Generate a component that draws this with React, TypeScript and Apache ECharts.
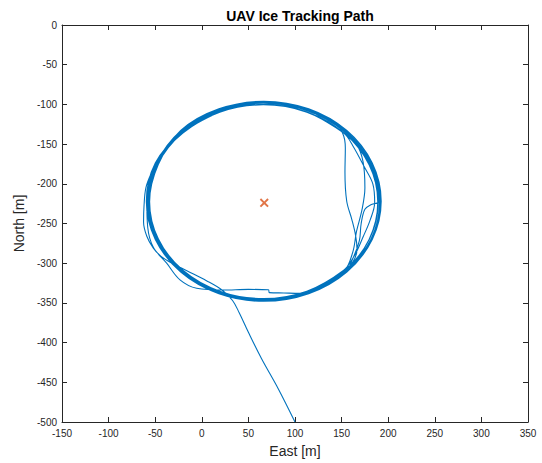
import React, { useEffect, useRef } from "react";
import * as echarts from "echarts";

// East / North limits and tick step [m]
const eastRange = [-150, 350];
const northRange = [-500, 0];
const tickStep = 50;

// Ice target (red cross)
const target = [67, -224];

// Entry leg into the orbit
const entryLeg = [
  [100, -500], [82, -458], [64, -420], [50, -387], [40, -362], [33, -347],
  [22, -334], [5, -322], [-15, -310], [-32, -300], [-44, -291], [-52, -281],
  [-59, -266], [-62.5, -248], [-62, -228], [-60, -205], [-54, -186], [-48.6, -174.5],
];

// Orbit laps (clockwise), with the inner cut-offs on the east side
const orbit1 = [
  [-21.7, -134.3], [18.5, -107.4], [66, -98], [113.5, -107.4], [140, -121], [151, -136],
  [154, -155], [153.6, -185], [155.5, -222], [161, -245], [165, -265], [166.5, -282],
  [153.7, -309.7], [113.5, -336.6], [66, -346], [18.5, -336.6], [-21.7, -309.7],
  [-48.6, -269.5], [-58, -222], [-48.6, -174.5],
];
const orbit2 = [
  [-20.3, -136.2], [19.3, -109.8], [66, -100.5], [112.7, -109.8], [152.3, -136.2],
  [162, -152], [174, -178], [183.5, -200], [185.5, -224], [180.5, -246], [173, -267], [164, -290],
  [152.3, -308.8], [112.7, -335.2], [66, -344.5], [19.3, -335.2], [-20.3, -308.8],
  [-46.7, -269.2], [-56, -222.5], [-46.7, -175.8],
];
const orbit3 = [
  [-22.6, -132.9], [18.3, -105.6], [66.5, -96], [114.7, -105.6], [155.6, -132.9],
  [182.9, -173.8], [192.5, -222], [182.9, -270.2], [155.6, -311.1], [114.7, -338.4],
  [66.5, -348], [18.3, -338.4], [-22.6, -311.1], [-49.9, -270.2], [-59.5, -222], [-49.9, -173.8],
];
const orbit4 = [
  [-21.5, -136], [18.4, -109.4], [65.5, -100], [112.6, -109.4], [152.5, -136],
  [166, -150], [173, -172], [175, -205], [172, -232], [166, -260], [162, -286],
  [152.5, -310], [112.6, -336.6], [65.5, -346], [18.4, -336.6], [-21.5, -310],
  [-48.1, -270.1], [-57.5, -223], [-48.1, -175.9],
];
const orbit5 = [
  [-22.4, -133.6], [18.2, -106.5], [66, -97], [113.8, -106.5], [154.4, -133.6],
  [181.5, -174.2], [191, -222], [181.5, -269.8], [154.4, -310.4], [125, -332],
  [105, -338], [88, -337.5], [72.5, -337], [71.5, -333.5], [50, -333], [22.7, -333.8],
  [-5.5, -331.6], [-23.4, -321], [-37.7, -300], [-52, -280], [-58, -255], [-59, -222],
  [-49.5, -174.2],
];
const orbit6 = [
  [-21.5, -134.5], [18.9, -107.5], [66.5, -98], [114.1, -107.5], [154.5, -134.5],
  [181.5, -174.9], [190.5, -222], [182, -226], [175, -232], [171, -250], [169, -272], [161, -297],
  [154.5, -310.5], [114.1, -337.5], [66.5, -347], [18.9, -337.5], [-21.5, -310.5],
  [-48.5, -270.1], [-58, -222.5], [-48.5, -174.9],
];
const orbit7 = [
  [-21.3, -134.7], [18.7, -107.9], [66, -98.5], [113.3, -107.9], [153.3, -134.7],
  [180.1, -174.7], [189.5, -222], [180.1, -269.3], [153.3, -309.3], [113.3, -336.1],
  [66, -345.5], [18.7, -336.1], [-21.3, -309.3], [-48, -269.3], [-57.5, -222], [-48, -174.7],
];
const orbit8 = [
  [-22.2, -134.3], [18.2, -107.2], [66, -97.7], [113.8, -107.2], [154.2, -134.3],
  [181.3, -174.7], [190.8, -222.5], [181.3, -270.3], [154.2, -310.7], [113.8, -337.8],
  [66, -347.3], [18.2, -337.8], [-22.2, -310.7], [-49.3, -270.3], [-58.8, -222.5], [-49.3, -174.7],
];
const orbit9 = [
  [-22, -134.5], [18.1, -107.6], [65.5, -98.2], [112.9, -107.6], [153, -134.5],
  [179.9, -174.6], [189.3, -222], [179.9, -269.4], [153, -309.5], [112.9, -336.4],
  [65.5, -345.8], [18.1, -336.4], [-22, -309.5], [-48.9, -269.4], [-58.3, -222], [-48.9, -174.6],
];
const orbit10 = [
  [-22.2, -132.8], [18.5, -105.6], [66.5, -96], [114.5, -105.6], [155.2, -132.8],
  [182.4, -173.5], [192, -221.5], [182.4, -269.5], [155.2, -310.2], [114.5, -337.4],
  [66.5, -347], [18.5, -337.4], [-22.2, -310.2], [-49.4, -269.5], [-59, -221.5], [-49.4, -173.5],
];
const orbit11 = [
  [-20.8, -136.2], [19, -109.5], [66, -100.2], [113, -109.5], [152.8, -136.2],
  [179.5, -176], [188.8, -223], [179.5, -270], [152.8, -309.8], [113, -336.5],
  [66, -345.8], [19, -336.5], [-20.8, -309.8], [-47.5, -270], [-56.8, -223], [-47.5, -176],
  [-20.8, -136.2], [19, -109.5],
];

const flightPath = [
  ...entryLeg, ...orbit1, ...orbit2, ...orbit3, ...orbit4, ...orbit5, ...orbit6,
  ...orbit7, ...orbit8, ...orbit9, ...orbit10, ...orbit11,
];

const FONT = "'Liberation Sans', Arial, Helvetica, sans-serif";
const AXIS = "#262626";

export default function App() {
  const ref = useRef<HTMLDivElement>(null);
  useEffect(() => {
    if (!ref.current) return;
    const chart = echarts.init(ref.current, undefined, { renderer: "svg" });
    const tickCommon = { show: true, inside: true, length: 5, lineStyle: { color: AXIS, width: 1 } };
    const lineCommon = { show: true, onZero: false, lineStyle: { color: AXIS, width: 1 } };
    chart.setOption({
      animation: false,
      backgroundColor: "#ffffff",
      title: {
        text: "UAV Ice Tracking Path",
        left: 295,
        textAlign: "center",
        top: 4,
        textStyle: { fontFamily: FONT, fontSize: 14, fontWeight: "bold", color: "#000000" },
      },
      grid: { left: 62, right: 14, top: 25, bottom: 41, containLabel: false },
      xAxis: [
        {
          type: "value",
          min: eastRange[0],
          max: eastRange[1],
          interval: tickStep,
          position: "bottom",
          name: "East [m]",
          nameLocation: "middle",
          nameGap: 22,
          nameTextStyle: { fontFamily: FONT, fontSize: 14, color: AXIS },
          axisLine: lineCommon,
          axisTick: tickCommon,
          axisLabel: { fontFamily: FONT, fontSize: 10, color: AXIS, margin: 6 },
          splitLine: { show: false },
        },
        {
          type: "value",
          min: eastRange[0],
          max: eastRange[1],
          interval: tickStep,
          position: "top",
          axisLine: lineCommon,
          axisTick: tickCommon,
          axisLabel: { show: false },
          splitLine: { show: false },
        },
      ],
      yAxis: [
        {
          type: "value",
          min: northRange[0],
          max: northRange[1],
          interval: tickStep,
          position: "left",
          name: "North [m]",
          nameLocation: "middle",
          nameGap: 24,
          nameTextStyle: { fontFamily: FONT, fontSize: 14, color: AXIS },
          axisLine: lineCommon,
          axisTick: tickCommon,
          axisLabel: { fontFamily: FONT, fontSize: 10, color: AXIS, margin: 5 },
          splitLine: { show: false },
        },
        {
          type: "value",
          min: northRange[0],
          max: northRange[1],
          interval: tickStep,
          position: "right",
          axisLine: lineCommon,
          axisTick: tickCommon,
          axisLabel: { show: false },
          splitLine: { show: false },
        },
      ],
      series: [
        {
          type: "line",
          name: "UAV path",
          data: flightPath,
          xAxisIndex: 0,
          yAxisIndex: 0,
          showSymbol: false,
          smooth: 0.35,
          lineStyle: { color: "#0072BD", width: 1.1 },
          clip: true,
        },
        {
          type: "scatter",
          name: "Ice target",
          data: [target],
          xAxisIndex: 0,
          yAxisIndex: 0,
          symbol:
            "path://M0,1.5 L1.5,0 L5,3.5 L8.5,0 L10,1.5 L6.5,5 L10,8.5 L8.5,10 L5,6.5 L1.5,10 L0,8.5 L3.5,5 Z",
          symbolSize: 9,
          itemStyle: { color: "#D95319" },
        },
      ],
    });
    return () => chart.dispose();
  }, []);
  return (
    <div
      ref={ref}
      style={{ position: "fixed", left: 0, top: 0, width: 542, height: 463, background: "#fff" }}
    />
  );
}
